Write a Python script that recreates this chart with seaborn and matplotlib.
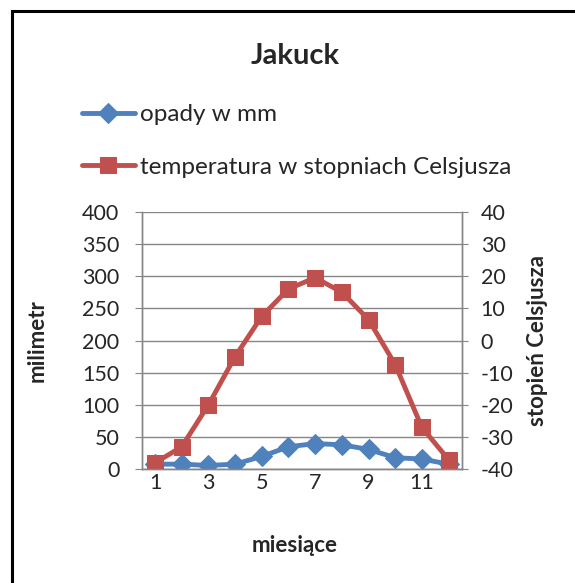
import matplotlib
matplotlib.use("Agg")
import matplotlib.pyplot as plt
import matplotlib.patches as mpatches
import numpy as np
import pandas as pd
import seaborn as sns

# Data
months = [1, 2, 3, 4, 5, 6, 7, 8, 9, 10, 11, 12]
precip_mm = [8, 8, 6, 8, 20, 35, 40, 38, 31, 18, 16, 8]
temp_c = [-38, -33, -20, -5, 7.5, 16, 19.5, 15, 6.5, -7.5, -27, -37]
month_labels = ["1", "", "3", "", "5", "", "7", "", "9", "", "11", ""]
mm_ticks = [0, 50, 100, 150, 200, 250, 300, 350, 400]
c_ticks = [-40, -30, -20, -10, 0, 10, 20, 30, 40]

blue = "#4F81BD"
red = "#C0504D"
grid = "#868686"

sns.set_style("white")
plt.rcParams["font.family"] = ["Lato", "DejaVu Sans"]
plt.rcParams["axes.unicode_minus"] = False

df = pd.DataFrame({"pos": np.arange(len(months)), "precip": precip_mm, "temp": temp_c})

fig = plt.figure(figsize=(5.75, 5.83), dpi=100)
ax = fig.add_axes([0.2464, 0.1950, 0.557, 0.4419])
ax2 = ax.twinx()

sns.lineplot(data=df, x="pos", y="precip", ax=ax, color=blue, marker="D",
             markersize=10, linewidth=3.5, markeredgecolor=blue, label="opady w mm")
sns.lineplot(data=df, x="pos", y="temp", ax=ax2, color=red, marker="s",
             markersize=12, linewidth=3.5, markeredgecolor=red,
             label="temperatura w stopniach Celsjusza")
ax.get_legend().remove()
ax2.get_legend().remove()

ax.set_ylim(0, 400)
ax.set_yticks(mm_ticks)
ax2.set_ylim(-40, 40)
ax2.set_yticks(c_ticks)
ax.set_xlim(-0.5, len(months) - 0.5)
ax.set_xticks(np.arange(len(months)))
ax.set_xticklabels(month_labels)
ax.set_xticks(np.arange(-0.5, len(months)), minor=True)

ax.yaxis.grid(True, color=grid, linewidth=1)
ax.xaxis.grid(False)
for a in (ax, ax2):
    for s in a.spines.values():
        s.set_color(grid)
        s.set_linewidth(1)
    a.spines["top"].set_visible(False)

tick_fs = 15.5
ax.tick_params(axis="x", which="major", length=0, labelsize=tick_fs, pad=3)
ax.tick_params(axis="x", which="minor", length=4.5, color=grid, width=1)
ax.tick_params(axis="y", length=5, color=grid, labelsize=tick_fs, pad=11, left=True)
ax2.tick_params(axis="y", length=4.5, color=grid, labelsize=tick_fs, pad=9, right=True)

lab_fs = 16
ax.set_xlabel("miesiące", fontsize=lab_fs, fontweight="bold", va="center")
ax.xaxis.set_label_coords(0.479, -0.294)
ax.set_ylabel("milimetr", fontsize=lab_fs, fontweight="bold", va="center")
ax.yaxis.set_label_coords(-0.327, 0.5)
ax2.set_ylabel("stopień Celsjusza", fontsize=lab_fs, fontweight="bold", va="center")
ax2.yaxis.set_label_coords(1.237, 0.5)

fig.text(0.513, 0.904, "Jakuck", ha="center", va="center", fontsize=21, fontweight="bold")

h1, l1 = ax.get_legend_handles_labels()
h2, l2 = ax2.get_legend_handles_labels()
fig.legend(h1 + h2, l1 + l2, loc="upper left", bbox_to_anchor=(0.142, 0.821),
           frameon=False, fontsize=17.5, handlelength=2.2, handletextpad=0.2,
           labelspacing=1.3, borderaxespad=0, borderpad=0)

# chart border (only top and left edges visible in the crop)
fig.patches.append(mpatches.Rectangle((12 / 575, -0.1), 1.2, 1 - 11 / 583 + 0.1,
                                      transform=fig.transFigure, fill=False,
                                      edgecolor="black", linewidth=2.2))

fig.savefig("out.png", dpi=100)
